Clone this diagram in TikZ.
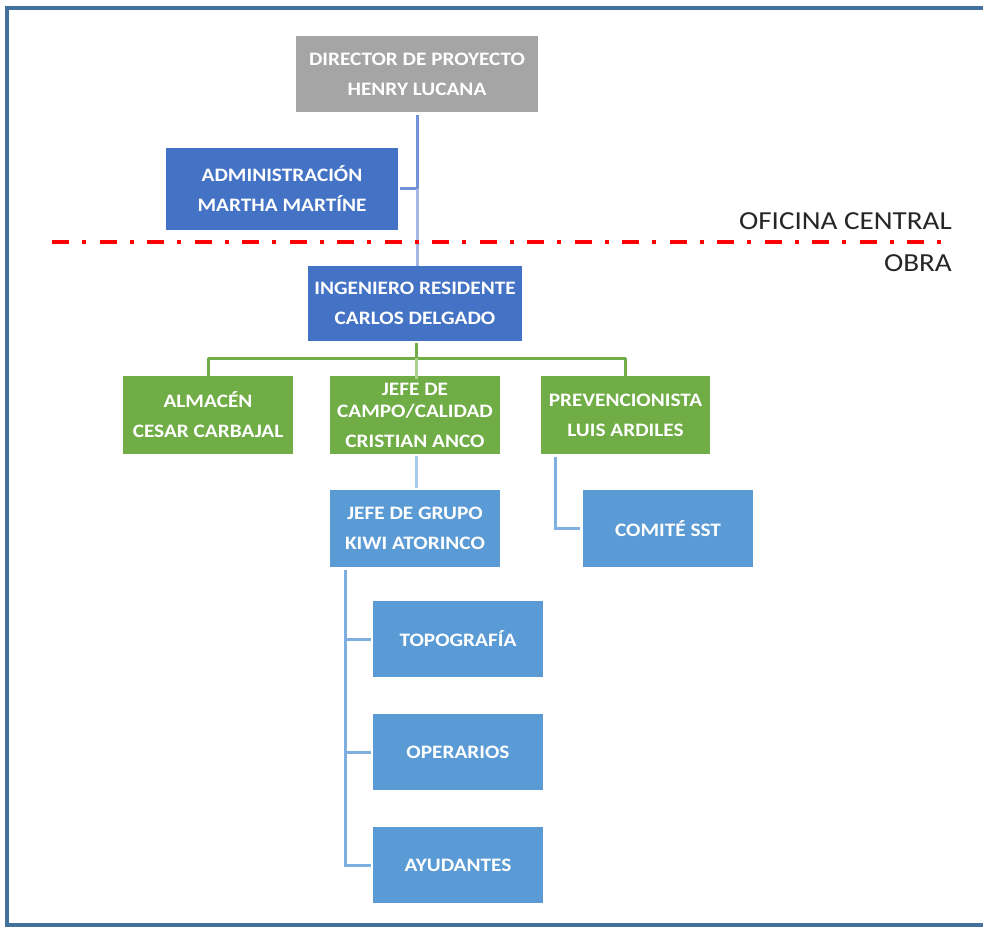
\documentclass[tikz,border=0pt]{standalone}
\usepackage{fontspec}
\setmainfont{Carlito}[FakeStretch=1.12]
\usetikzlibrary{positioning}
\definecolor{frameblue}{HTML}{41719C}
\definecolor{dirgray}{HTML}{A5A5A5}
\definecolor{darkblue}{HTML}{4472C4}
\definecolor{midblue}{HTML}{5B9BD5}
\definecolor{boxgreen}{HTML}{70AD47}
\definecolor{lightgreen}{HTML}{A9D18E}
\definecolor{trunkdark}{HTML}{7291D7}
\definecolor{trunklight}{HTML}{A3B8E6}
\definecolor{linkblue}{HTML}{7DB0E0}
\definecolor{linklight}{HTML}{A6CBEC}
\definecolor{labelgray}{HTML}{262626}
\tikzset{
  orgbox/.style={rectangle, draw=none, text=white, align=center,
    inner sep=0pt, font=\bfseries\fontsize{19}{22}\selectfont},
  graybox/.style={orgbox, fill=dirgray},
  bluebox/.style={orgbox, fill=darkblue},
  greenbox/.style={orgbox, fill=boxgreen},
  skybox/.style={orgbox, fill=midblue},
  link/.style={line width=3pt},
  sectionlabel/.style={anchor=east, inner sep=0pt, text=labelgray,
    font=\fontsize{26}{30}\selectfont}
}
\begin{document}
\begin{tikzpicture}[x=1pt, y=-1pt]
\useasboundingbox (0,0) rectangle (983,928);
\clip (0,0) rectangle (983,928);
\fill[white] (0,0) rectangle (983,928);
% outer frame (its right side runs off the page)
\draw[frameblue, line width=4pt] (1100,8.5) -- (6.5,8.5) -- (6.5,924.5) -- (1100,924.5);

% boxes
\node[graybox, minimum width=242pt, minimum height=76pt] (dir) at (417,74)
  {DIRECTOR DE PROYECTO\\[8pt]HENRY LUCANA};
\node[bluebox, minimum width=232pt, minimum height=82pt] (adm) at (282,189)
  {ADMINISTRACIÓN\\[8pt]MARTHA MARTÍNE};
\node[bluebox, minimum width=214pt, minimum height=75pt] (ing) at (415,303.5)
  {INGENIERO RESIDENTE\\[8pt]CARLOS DELGADO};
\node[greenbox, minimum width=170pt, minimum height=78pt] (alm) at (208,415)
  {ALMACÉN\\[8pt]CESAR CARBAJAL};
\node[greenbox, minimum width=170pt, minimum height=78pt] (jef) at (415,415)
  {JEFE DE\\CAMPO/CALIDAD\\[8pt]CRISTIAN ANCO};
\node[greenbox, minimum width=169pt, minimum height=78pt] (pre) at (625.5,415)
  {PREVENCIONISTA\\[8pt]LUIS ARDILES};
\node[skybox, minimum width=170pt, minimum height=77pt] (grp) at (415,528.5)
  {JEFE DE GRUPO\\[8pt]KIWI ATORINCO};
\node[skybox, minimum width=170pt, minimum height=77pt] (sst) at (668,528.5)
  {COMITÉ SST};
\node[skybox, minimum width=170pt, minimum height=76pt] (top) at (458,639)
  {TOPOGRAFÍA};
\node[skybox, minimum width=170pt, minimum height=76pt] (ope) at (458,752)
  {OPERARIOS};
\node[skybox, minimum width=170pt, minimum height=76pt] (ayu) at (458,865)
  {AYUDANTES};

% office / site separator
\coordinate (sepL) at (52,242);
\coordinate (sepR) at (945,242);

% director -> administration -> resident engineer
\coordinate (j1) at ([xshift=0.5pt]dir.south |- adm.east);
\draw[link, trunkdark] ([xshift=0.5pt,yshift=-3pt]dir.south) -- (j1);
\draw[link, trunkdark] ([xshift=2pt]adm.east) -- (j1);
\draw[link, trunklight] (j1) -- ([xshift=0.5pt]dir.south |- ing.north);

\draw[red, line width=4pt, dash pattern=on 17pt off 13.3pt on 4pt off 13.2pt]
  (sepL) -- (sepR);
\node[sectionlabel] (oc) at (952,221) {OFICINA CENTRAL};
\node[sectionlabel] (ob) at (952,263) {OBRA};

% resident engineer -> field staff
\coordinate (bus) at ([xshift=1pt]ing.south |- 0,358);
\draw[link, boxgreen] ([xshift=1pt,yshift=-2pt]ing.south) -- (bus);
\draw[link, boxgreen, line join=round]
  ([yshift=-3pt]alm.north) |- (bus) -| ([yshift=-3pt]pre.north);
\draw[link, lightgreen] (bus) -- ([xshift=1pt,yshift=-3pt]jef.north);

% field chief -> group chief
\draw[link, linklight] ([xshift=1pt,yshift=-2pt]jef.south) -- ([xshift=1pt,yshift=2pt]grp.north);

% prevention officer -> safety committee
\draw[link, linkblue]
  ([xshift=15pt,yshift=-3pt]pre.south west) |- ([xshift=-3pt]sst.west);

% group chief -> crews
\coordinate (g0) at ([xshift=16pt,yshift=-3pt]grp.south west);
\draw[link, linkblue] (g0) |- ([xshift=-2pt]ayu.west);
\draw[link, linkblue] (g0 |- top.west) -- ([xshift=-2pt]top.west);
\draw[link, linkblue] (g0 |- ope.west) -- ([xshift=-2pt]ope.west);
\end{tikzpicture}
\end{document}
